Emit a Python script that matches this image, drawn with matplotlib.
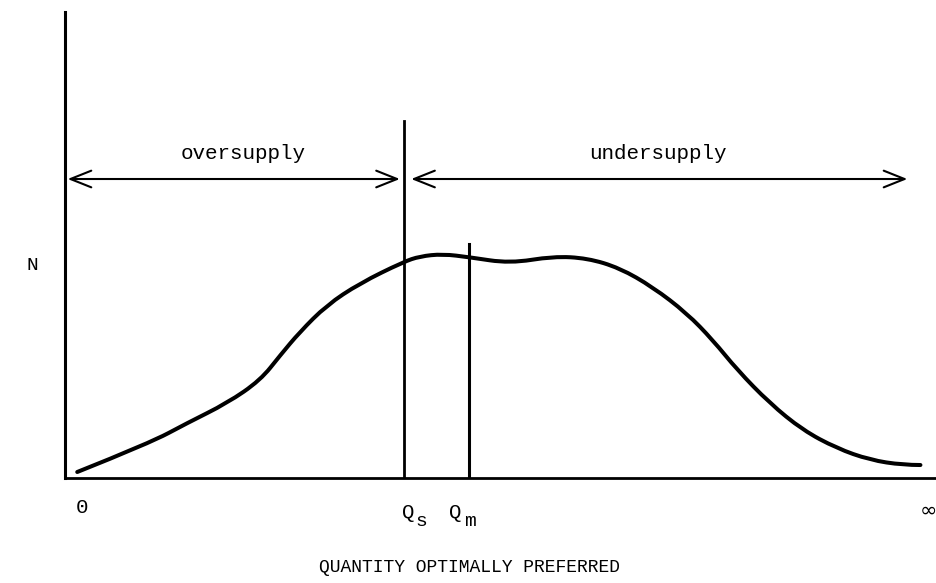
import numpy as np
from matplotlib import pyplot as plt
from matplotlib.path import Path
from matplotlib.patches import PathPatch

# distribution of optimally preferred quantity (0-100 units)
curve_x = [1.4, 9.7, 14.0, 18.6, 22.4, 24.7, 26.9, 30.0, 33.8, 38.8, 40.7, 43.3,
           46.4, 51.0, 56.0, 59.9, 63.6, 67.4, 71.3, 74.3, 77.1, 80.8, 84.6,
           88.5, 92.3, 96.1, 98.1]
curve_y = [1.3, 7.5, 11.8, 16.1, 21.0, 26.4, 31.3, 37.1, 41.8, 46.4, 47.6, 48.1,
           47.4, 46.1, 47.6, 47.2, 45.1, 41.0, 35.4, 29.6, 23.2, 16.1, 10.3,
           6.4, 3.9, 2.8, 2.8]

q_s = 38.9
q_s_top = 76.6
q_m = 46.3
q_m_top = 50.2
arrow_y = 64.2

font = 'Liberation Mono'


def smooth_path(xs, ys):
    # quadratic bezier through midpoints, data points act as control points
    pts = np.column_stack([xs, ys])
    verts = [pts[0]]
    codes = [Path.MOVETO]
    for i in range(1, len(pts) - 1):
        mid = (pts[i] + pts[i + 1]) / 2
        if i == len(pts) - 2:
            mid = pts[i + 1]
        verts += [pts[i], mid]
        codes += [Path.CURVE3, Path.CURVE3]
    return Path(verts, codes)


fig = plt.figure(figsize=(9.37, 5.83), dpi=100)
ax = fig.add_axes([0.0694, 0.18, 0.9306, 0.799])
ax.set_xlim(0, 100)
ax.set_ylim(0, 100)
for s in ['top', 'right']:
    ax.spines[s].set_visible(False)
ax.spines['left'].set_linewidth(2.2)
ax.spines['bottom'].set_linewidth(2.0)
ax.set_xticks([])
ax.set_yticks([])

ax.add_patch(PathPatch(smooth_path(curve_x, curve_y), fill=False,
                       edgecolor='black', lw=2.9, capstyle='round'))
ax.plot([q_s, q_s], [0, q_s_top], color='black', lw=2.0)
ax.plot([q_m, q_m], [0, q_m_top], color='black', lw=2.2)

arr = dict(arrowstyle='<->,head_length=1.5,head_width=0.6', color='black',
           lw=1.5, mutation_scale=10, shrinkA=0, shrinkB=0)
ax.annotate('', xy=(0.3, arrow_y), xytext=(38.4, arrow_y), arrowprops=arr)
ax.annotate('', xy=(39.7, arrow_y), xytext=(96.6, arrow_y), arrowprops=arr)

ax.text(20.4, 67.6, 'oversupply', family=font, fontsize=15, ha='center', va='bottom')
ax.text(68.0, 67.6, 'undersupply', family=font, fontsize=15, ha='center', va='bottom')

ax.text(-3.7, 45.7, 'N', family=font, fontsize=14, ha='center', va='center', clip_on=False)
ax.text(1.9, -6.4, '0', family=font, fontsize=15, ha='center', va='center', clip_on=False)
ax.text(39.4, -7.3, 'Q', family=font, fontsize=15, ha='center', va='center', clip_on=False)
ax.text(40.8, -9.4, 's', family=font, fontsize=14, ha='center', va='center', clip_on=False)
ax.text(44.7, -7.3, 'Q', family=font, fontsize=15, ha='center', va='center', clip_on=False)
ax.text(46.4, -9.4, 'm', family=font, fontsize=14, ha='center', va='center', clip_on=False)
ax.text(99.0, -6.9, '\u221e', family='DejaVu Sans', fontsize=15, ha='center', va='center', clip_on=False)
ax.text(46.4, -19.3, 'QUANTITY OPTIMALLY PREFERRED', family=font, fontsize=13,
        ha='center', va='center', clip_on=False)

fig.savefig('out.png', dpi=100)
